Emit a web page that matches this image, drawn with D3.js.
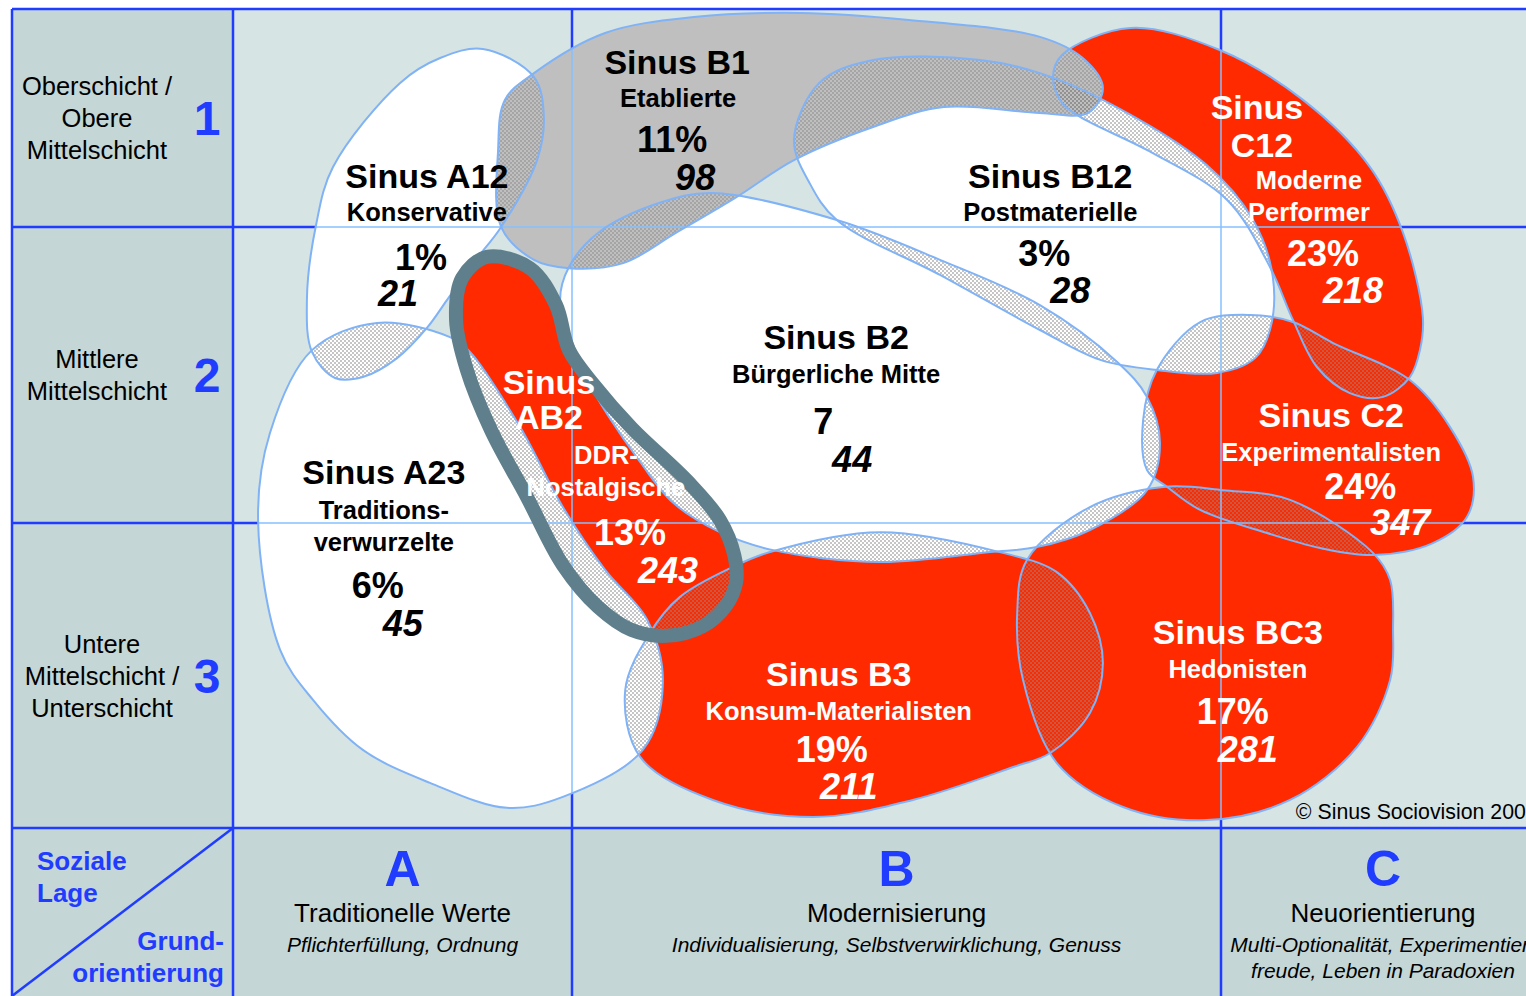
<!DOCTYPE html>
<html>
<head>
<meta charset="utf-8">
<script src="https://cdn.jsdelivr.net/npm/d3@7"></script>
<style>
    body { margin: 0; background: #ffffff; }
    svg { display: block; font-family: "Liberation Sans", Arial, Helvetica, sans-serif; }
</style>
</head>
<body>
<div id="chart"></div>
<script>
// Sinus-Milieus: soziale Lage (rows 1-3) x Grundorientierung (columns A-C)

// axis labels
var rowNumbers = ["1", "2", "3"];
var rowLabels = [
    ["Oberschicht /", "Obere", "Mittelschicht"],
    ["Mittlere", "Mittelschicht"],
    ["Untere", "Mittelschicht /", "Unterschicht"]
];
var colLetters = ["A", "B", "C"];
var colTitles = ["Traditionelle Werte", "Modernisierung", "Neuorientierung"];
var colSubtitles = [
    ["Pflichterfüllung, Ordnung"],
    ["Individualisierung, Selbstverwirklichung, Genuss"],
    ["Multi-Optionalität, Experimentier-", "freude, Leben in Paradoxien"]
];

// milieus
var milieuCodes = ["A12", "B1", "B12", "C12", "AB2", "B2", "C2", "A23", "B3", "BC3"];
var milieuNames = [["Sinus A12"], ["Sinus B1"], ["Sinus B12"], ["Sinus", "C12"], ["Sinus", "AB2"],
    ["Sinus B2"], ["Sinus C2"], ["Sinus A23"], ["Sinus B3"], ["Sinus BC3"]];
var milieuTypes = [["Konservative"], ["Etablierte"], ["Postmaterielle"], ["Moderne", "Performer"],
    ["DDR-", "Nostalgische"], ["Bürgerliche Mitte"], ["Experimentalisten"],
    ["Traditions-", "verwurzelte"], ["Konsum-Materialisten"], ["Hedonisten"]];
var shareLabels = ["1%", "11%", "3%", "23%", "13%", "7", "24%", "6%", "19%", "17%"];
var counts = [21, 98, 28, 218, 243, 44, 347, 45, 211, 281];
var milieuGroup = ["neutral", "reference", "neutral", "focus", "focus", "neutral", "focus", "neutral", "focus", "focus"];

// milieu outlines in grid units: x = Grundorientierung (0..3 = A..C), y = soziale Lage (0..3 = 1..3)
var outlineA12 = [[0.737, 0.183], [0.888, 0.312], [0.917, 0.495], [0.897, 0.693], [0.791, 1.0], [0.711, 1.118],
    [0.631, 1.247], [0.572, 1.341], [0.484, 1.443], [0.383, 1.507], [0.301, 1.510], [0.233, 1.422],
    [0.218, 1.247], [0.245, 0.991], [0.295, 0.725], [0.493, 0.339], [0.611, 0.225]];
var outlineB1 = [[0.791, 1.0], [0.782, 0.647], [0.802, 0.417], [0.888, 0.294], [1.051, 0.110], [1.188, 0.037],
    [1.353, 0.018], [1.519, 0.050], [1.721, 0.128], [1.787, 0.225], [1.818, 0.362], [1.795, 0.477],
    [1.721, 0.477], [1.573, 0.450], [1.464, 0.541], [1.342, 0.693], [1.254, 0.862], [1.160, 1.020],
    [1.079, 1.122], [0.991, 1.139], [0.888, 1.111]];
var outlineB12 = [[1.342, 0.601], [1.381, 0.339], [1.464, 0.234], [1.629, 0.234], [1.721, 0.294], [1.818, 0.417],
    [1.978, 0.716], [2.099, 0.968], [2.160, 1.169], [2.151, 1.348], [2.105, 1.443], [1.994, 1.493],
    [1.901, 1.483], [1.814, 1.449], [1.721, 1.348], [1.567, 1.162], [1.408, 0.968], [1.366, 0.798]];
var outlineC12 = [[1.741, 0.312], [1.755, 0.211], [1.860, 0.087], [1.998, 0.188], [2.253, 0.417], [2.460, 0.725],
    [2.562, 1.020], [2.623, 1.304], [2.614, 1.416], [2.583, 1.507], [2.500, 1.574], [2.398, 1.561],
    [2.296, 1.473], [2.222, 1.314], [2.151, 1.135], [2.019, 0.876], [1.895, 0.661], [1.783, 0.495],
    [1.755, 0.431]];
var outlineAB2 = [[0.749, 1.101], [0.876, 1.139], [0.953, 1.264], [0.991, 1.416], [1.034, 1.534], [1.092, 1.679],
    [1.179, 1.861], [1.228, 1.990], [1.250, 2.105], [1.253, 2.193], [1.237, 2.272], [1.202, 2.338],
    [1.146, 2.370], [1.092, 2.351], [1.040, 2.275], [0.973, 2.138], [0.867, 1.912], [0.761, 1.686],
    [0.690, 1.483], [0.658, 1.314], [0.676, 1.172]];
var outlineB2 = [[0.991, 1.135], [0.965, 1.247], [1.005, 1.416], [1.028, 1.534], [1.057, 1.642], [1.105, 1.794],
    [1.156, 1.932], [1.228, 2.030], [1.310, 2.089], [1.475, 2.128], [1.644, 2.095], [1.716, 2.079],
    [1.798, 2.023], [1.886, 1.889], [1.906, 1.730], [1.886, 1.574], [1.840, 1.456], [1.721, 1.264],
    [1.567, 1.111], [1.408, 0.968], [1.216, 0.844], [1.134, 0.890], [1.040, 1.020]];
var outlineC2 = [[1.901, 1.483], [1.968, 1.321], [2.090, 1.297], [2.222, 1.321], [2.346, 1.392], [2.583, 1.517],
    [2.707, 1.676], [2.778, 1.845], [2.759, 1.980], [2.654, 2.066], [2.469, 2.105], [2.306, 2.082],
    [2.142, 2.033], [1.968, 1.956], [1.917, 1.878], [1.886, 1.821], [1.880, 1.652]];
var outlineA23 = [[0.640, 1.372], [0.699, 1.422], [0.847, 1.676], [0.973, 1.946], [1.051, 2.154], [1.116, 2.318],
    [1.140, 2.525], [1.109, 2.744], [0.973, 2.898], [0.808, 2.934], [0.581, 2.852], [0.383, 2.744],
    [0.236, 2.580], [0.139, 2.416], [0.074, 1.990], [0.109, 1.696], [0.233, 1.416], [0.425, 1.324]];
var outlineB3 = [[1.120, 2.361], [1.166, 2.243], [1.248, 2.144], [1.305, 2.095], [1.475, 2.030], [1.664, 2.098],
    [1.747, 2.161], [1.798, 2.295], [1.818, 2.459], [1.798, 2.623], [1.737, 2.754], [1.680, 2.800],
    [1.525, 2.908], [1.371, 2.964], [1.217, 2.908], [1.105, 2.767], [1.082, 2.548]];
var outlineBC3 = [[1.701, 2.121], [1.798, 1.946], [1.911, 1.878], [2.006, 1.889], [2.213, 1.922], [2.469, 2.098],
    [2.522, 2.187], [2.531, 2.351], [2.522, 2.515], [2.420, 2.734], [2.213, 2.908], [1.978, 2.974],
    [1.849, 2.931], [1.747, 2.787], [1.695, 2.515], [1.686, 2.295]];
var outlines = [outlineA12, outlineB1, outlineB12, outlineC12, outlineAB2, outlineB2, outlineC2, outlineA23, outlineB3, outlineBC3];

// label layout: anchor in grid units, then pixel offsets of the other lines
var labelAnchor = [[0.572, 0.821], [1.162, 0.298], [1.737, 0.821], [2.111, 0.505], [0.932, 1.564],
    [1.407, 1.412], [2.340, 1.676], [0.445, 1.868], [1.411, 2.534], [2.052, 2.397]];
var labelOffsets = [
    { name2: [0, 0], sub: [0, 33], share: [-6, 82], count: [-29, 118] },
    { name2: [0, 0], sub: [1, 33], share: [-5, 78], count: [18, 116] },
    { name2: [0, 0], sub: [0, 33], share: [-6, 78], count: [20, 115] },
    { name2: [5, 38], sub: [52, 70], share: [66, 147], count: [96, 184] },
    { name2: [0, 35], sub: [57, 70], share: [81, 151], count: [119, 189] },
    { name2: [0, 0], sub: [0, 34], share: [-13, 85], count: [16, 123] },
    { name2: [0, 0], sub: [0, 34], share: [29, 72], count: [69, 108] },
    { name2: [0, 0], sub: [0, 35], share: [-6, 114], count: [19, 152] },
    { name2: [0, 0], sub: [0, 34], share: [-7, 76], count: [10, 113] },
    { name2: [0, 0], sub: [0, 34], share: [-5, 80], count: [10, 118] }
];

var width = 1526, height = 996;
var frameLeft = 12, frameBottom = 1000;

// grid scales (piecewise: columns and rows have different sizes)
var x = d3.scaleLinear().domain([0, 1, 2, 3]).range([233, 572, 1221, 1545]);
var y = d3.scaleLinear().domain([0, 1, 2, 3]).range([9, 227, 523, 828]);

var blue = "#1f3cff";
var fillOf = { focus: "#ff2a00", neutral: "#ffffff", reference: "#bfbfbf" };
var rankOf = { focus: 0, neutral: 1, reference: 2 };

var svg = d3.select("#chart")
    .append("svg")
    .attr("width", width)
    .attr("height", height);

var defs = svg.append("defs");

// checker pattern for overlaps
var checker = defs.append("pattern")
    .attr("id", "checker")
    .attr("width", 4)
    .attr("height", 4)
    .attr("patternUnits", "userSpaceOnUse");
checker.append("rect").attr("x", 0).attr("y", 0).attr("width", 2).attr("height", 2)
    .attr("fill", "#8c8c8c").attr("fill-opacity", 0.5);
checker.append("rect").attr("x", 2).attr("y", 2).attr("width", 2).attr("height", 2)
    .attr("fill", "#8c8c8c").attr("fill-opacity", 0.5);

var blobLine = d3.line()
    .x(function (d) { return x(d[0]); })
    .y(function (d) { return y(d[1]); })
    .curve(d3.curveCatmullRomClosed.alpha(0.5));

// one clip per milieu + one for all milieus together
outlines.forEach(function (o, i) {
    defs.append("clipPath").attr("id", "clip-" + i)
        .append("path").attr("d", blobLine(o));
});
var clipAll = defs.append("clipPath").attr("id", "clip-all");
outlines.forEach(function (o) { clipAll.append("path").attr("d", blobLine(o)); });

// backgrounds
svg.append("rect")
    .attr("x", frameLeft).attr("y", y(0))
    .attr("width", x(0) - frameLeft).attr("height", y(3) - y(0))
    .attr("fill", "#c4d6d6");
svg.append("rect")
    .attr("x", x(0)).attr("y", y(0))
    .attr("width", width - x(0)).attr("height", y(3) - y(0))
    .attr("fill", "#d6e4e4");
svg.append("rect")
    .attr("x", frameLeft).attr("y", y(3))
    .attr("width", width - frameLeft).attr("height", height - y(3))
    .attr("fill", "#c4d6d6");

// thick frame lines
var frame = svg.append("g").attr("stroke", blue).attr("stroke-width", 2.5);
[0, 1, 2, 3].forEach(function (r) {
    frame.append("line").attr("x1", frameLeft).attr("x2", width + 10).attr("y1", y(r)).attr("y2", y(r));
});
frame.append("line").attr("x1", frameLeft).attr("x2", frameLeft).attr("y1", y(0)).attr("y2", frameBottom);
[0, 1, 2].forEach(function (c) {
    frame.append("line").attr("x1", x(c)).attr("x2", x(c)).attr("y1", y(0)).attr("y2", frameBottom);
});
frame.append("line").attr("x1", frameLeft).attr("y1", height).attr("x2", x(0)).attr("y2", y(3));

// milieu fills: red first, then white, then grey
var order = d3.range(outlines.length).sort(function (a, b) {
    return rankOf[milieuGroup[a]] - rankOf[milieuGroup[b]];
});

svg.append("g")
    .selectAll("path")
    .data(order)
    .enter()
    .append("path")
    .attr("d", function (i) { return blobLine(outlines[i]); })
    .attr("fill", function (i) { return fillOf[milieuGroup[i]]; });

// overlaps get the checker
var hatch = svg.append("g");
order.forEach(function (i, a) {
    order.slice(a + 1).forEach(function (j) {
        hatch.append("path")
            .attr("d", blobLine(outlines[j]))
            .attr("clip-path", "url(#clip-" + i + ")")
            .attr("fill", "url(#checker)");
    });
});

// thin grid lines across the milieus
var thin = svg.append("g")
    .attr("clip-path", "url(#clip-all)")
    .attr("stroke", "#86c0ff")
    .attr("stroke-width", 1.5);
[1, 2].forEach(function (r) {
    thin.append("line").attr("x1", x(0)).attr("x2", width).attr("y1", y(r)).attr("y2", y(r));
});
[1, 2].forEach(function (c) {
    thin.append("line").attr("x1", x(c)).attr("x2", x(c)).attr("y1", y(0)).attr("y2", y(3));
});

// outlines
svg.append("g")
    .selectAll("path")
    .data(outlines)
    .enter()
    .append("path")
    .attr("d", function (d) { return blobLine(d); })
    .attr("fill", "none")
    .attr("stroke", "#80b2f6")
    .attr("stroke-width", 2);

// AB2 gets the heavy outline
svg.append("path")
    .attr("d", blobLine(outlines[milieuCodes.indexOf("AB2")]))
    .attr("fill", "none")
    .attr("stroke", "#5e7f8b")
    .attr("stroke-width", 14);

// milieu labels
var labels = svg.append("g").attr("text-anchor", "middle").attr("font-weight", "bold");
milieuCodes.forEach(function (code, i) {
    var ax = x(labelAnchor[i][0]), ay = y(labelAnchor[i][1]);
    var off = labelOffsets[i];
    var color = milieuGroup[i] == "focus" ? "#ffffff" : "#000000";

    milieuNames[i].forEach(function (t, k) {
        labels.append("text")
            .attr("x", ax + (k ? off.name2[0] : 0))
            .attr("y", ay + (k ? off.name2[1] : 0))
            .attr("fill", color)
            .style("font-size", "34px")
            .text(t);
    });
    milieuTypes[i].forEach(function (t, k) {
        labels.append("text")
            .attr("x", ax + off.sub[0])
            .attr("y", ay + off.sub[1] + k * 32)
            .attr("fill", color)
            .style("font-size", "25.5px")
            .text(t);
    });
    labels.append("text")
        .attr("x", ax + off.share[0])
        .attr("y", ay + off.share[1])
        .attr("fill", color)
        .style("font-size", "36px")
        .text(shareLabels[i]);
    labels.append("text")
        .attr("x", ax + off.count[0])
        .attr("y", ay + off.count[1])
        .attr("fill", color)
        .style("font-size", "36px")
        .style("font-style", "italic")
        .text(counts[i]);
});

// row labels (soziale Lage)
var rowG = svg.append("g").attr("text-anchor", "middle");
rowLabels.forEach(function (lines, r) {
    var cy = (y(r) + y(r + 1)) / 2;
    lines.forEach(function (t, k) {
        rowG.append("text")
            .attr("x", r == 2 ? 102 : 97)
            .attr("y", cy + (k - (lines.length - 1) / 2) * 32 + 9)
            .style("font-size", "25.5px")
            .attr("fill", "#000")
            .text(t);
    });
    rowG.append("text")
        .attr("x", 207)
        .attr("y", cy + 17)
        .attr("fill", blue)
        .style("font-size", "48px")
        .style("font-weight", "bold")
        .text(rowNumbers[r]);
});

// column labels (Grundorientierung)
var colG = svg.append("g").attr("text-anchor", "middle");
colLetters.forEach(function (letter, c) {
    var cx = x(c + 0.5);
    colG.append("text")
        .attr("x", cx).attr("y", 886)
        .attr("fill", blue)
        .style("font-size", "50px")
        .style("font-weight", "bold")
        .text(letter);
    colG.append("text")
        .attr("x", cx).attr("y", 922)
        .style("font-size", "26px")
        .text(colTitles[c]);
    colSubtitles[c].forEach(function (t, k) {
        colG.append("text")
            .attr("x", cx).attr("y", 952 + k * 26)
            .style("font-size", "21px")
            .style("font-style", "italic")
            .text(t);
    });
});

// corner cell
var corner = svg.append("g").attr("fill", blue).style("font-size", "26px").style("font-weight", "bold");
corner.append("text").attr("x", 37).attr("y", 870).text("Soziale");
corner.append("text").attr("x", 37).attr("y", 902).text("Lage");
corner.append("text").attr("x", 224).attr("y", 950).attr("text-anchor", "end").text("Grund-");
corner.append("text").attr("x", 224).attr("y", 982).attr("text-anchor", "end").text("orientierung");

// copyright
svg.append("text")
    .attr("x", x(2.231))
    .attr("y", y(3) - 9)
    .style("font-size", "21.3px")
    .text("© Sinus Sociovision 2007");
</script>
</body>
</html>
